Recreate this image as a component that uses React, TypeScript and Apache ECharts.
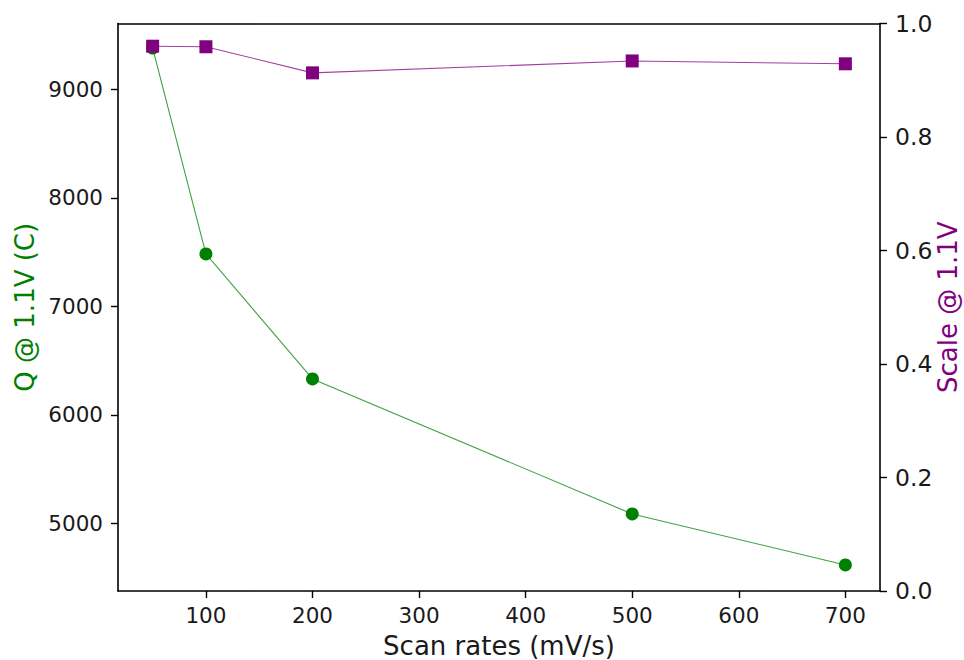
import React, { useEffect, useRef } from "react";
import * as echarts from "echarts";

const scanRates = [50, 100, 200, 500, 700];
const qValues = [9380, 7482, 6330, 5086, 4616];
const scaleValues = [0.96, 0.959, 0.913, 0.934, 0.929];
const xTicks = [100, 200, 300, 400, 500, 600, 700];
const qTicks = [5000, 6000, 7000, 8000, 9000];

const FONT = "DejaVu Sans";
const TEXT = "#1a1a1a";

export default function App() {
  const ref = useRef<HTMLDivElement>(null);
  useEffect(() => {
    if (!ref.current) return;
    const chart = echarts.init(ref.current, undefined, { renderer: "svg" });
    const axisLine = { show: true, lineStyle: { color: "#000", width: 1.6 } };
    const axisTick = { show: true, length: 7, inside: false, lineStyle: { color: "#000", width: 1.4 } };
    chart.setOption({
      animation: false,
      backgroundColor: "#fff",
      grid: {
        left: 118,
        right: 84,
        top: 23.5,
        bottom: 69,
        containLabel: false,
        outerBoundsMode: "none",
      },
      xAxis: [
        {
          type: "value",
          min: 17.5,
          max: 732.5,
          position: "bottom",
          axisLine: { ...axisLine, onZero: false },
          axisTick: { ...axisTick, customValues: xTicks },
          axisLabel: {
            customValues: xTicks,
            fontFamily: FONT,
            fontSize: 21.5,
            color: TEXT,
            margin: 13,
            formatter: (v: number) => String(v),
          },
          splitLine: { show: false },
          name: "Scan rates (mV/s)",
          nameLocation: "middle",
          nameGap: 42,
          nameMoveOverlap: false,
          nameTextStyle: { fontFamily: FONT, fontSize: 26, color: TEXT },
        },
        {
          type: "value",
          min: 17.5,
          max: 732.5,
          position: "top",
          axisLine: { ...axisLine, onZero: false },
          axisTick: { show: false },
          axisLabel: { show: false },
          splitLine: { show: false },
        },
      ],
      yAxis: [
        {
          type: "value",
          min: 4376,
          max: 9606,
          position: "left",
          axisLine: { ...axisLine, onZero: false },
          axisTick: { ...axisTick, customValues: qTicks },
          axisLabel: {
            customValues: qTicks,
            fontFamily: FONT,
            fontSize: 21.5,
            color: TEXT,
            margin: 15,
            formatter: (v: number) => String(v),
          },
          splitLine: { show: false },
          name: "Q @ 1.1V (C)",
          nameLocation: "middle",
          nameRotate: 90,
          nameGap: 80,
          nameMoveOverlap: false,
          nameTextStyle: { fontFamily: FONT, fontSize: 26, color: "#008000" },
        },
        {
          type: "value",
          min: 0,
          max: 1,
          interval: 0.2,
          position: "right",
          axisLine: { ...axisLine, onZero: false },
          axisTick: axisTick,
          axisLabel: {
            fontFamily: FONT,
            fontSize: 23.5,
            color: TEXT,
            margin: 15,
            formatter: (v: number) => v.toFixed(1),
          },
          splitLine: { show: false },
          name: "Scale @ 1.1V",
          nameLocation: "middle",
          nameRotate: 90,
          nameGap: 55,
          nameMoveOverlap: false,
          nameTextStyle: { fontFamily: FONT, fontSize: 26, color: "#800080" },
        },
      ],
      series: [
        {
          type: "line",
          xAxisIndex: 0,
          yAxisIndex: 0,
          data: scanRates.map((x, i) => [x, qValues[i]]),
          symbol: "circle",
          symbolSize: 13,
          itemStyle: { color: "#008000" },
          lineStyle: { color: "#008000", width: 1.1, opacity: 0.75 },
          z: 2,
        },
        {
          type: "line",
          xAxisIndex: 0,
          yAxisIndex: 1,
          data: scanRates.map((x, i) => [x, scaleValues[i]]),
          symbol: "rect",
          symbolSize: 13,
          itemStyle: { color: "#800080" },
          lineStyle: { color: "#800080", width: 1.1, opacity: 0.75 },
          z: 3,
        },
      ],
    });
    return () => chart.dispose();
  }, []);
  return (
    <div
      ref={ref}
      style={{ position: "fixed", left: 0, top: 0, width: 964, height: 660, background: "#fff" }}
    />
  );
}
